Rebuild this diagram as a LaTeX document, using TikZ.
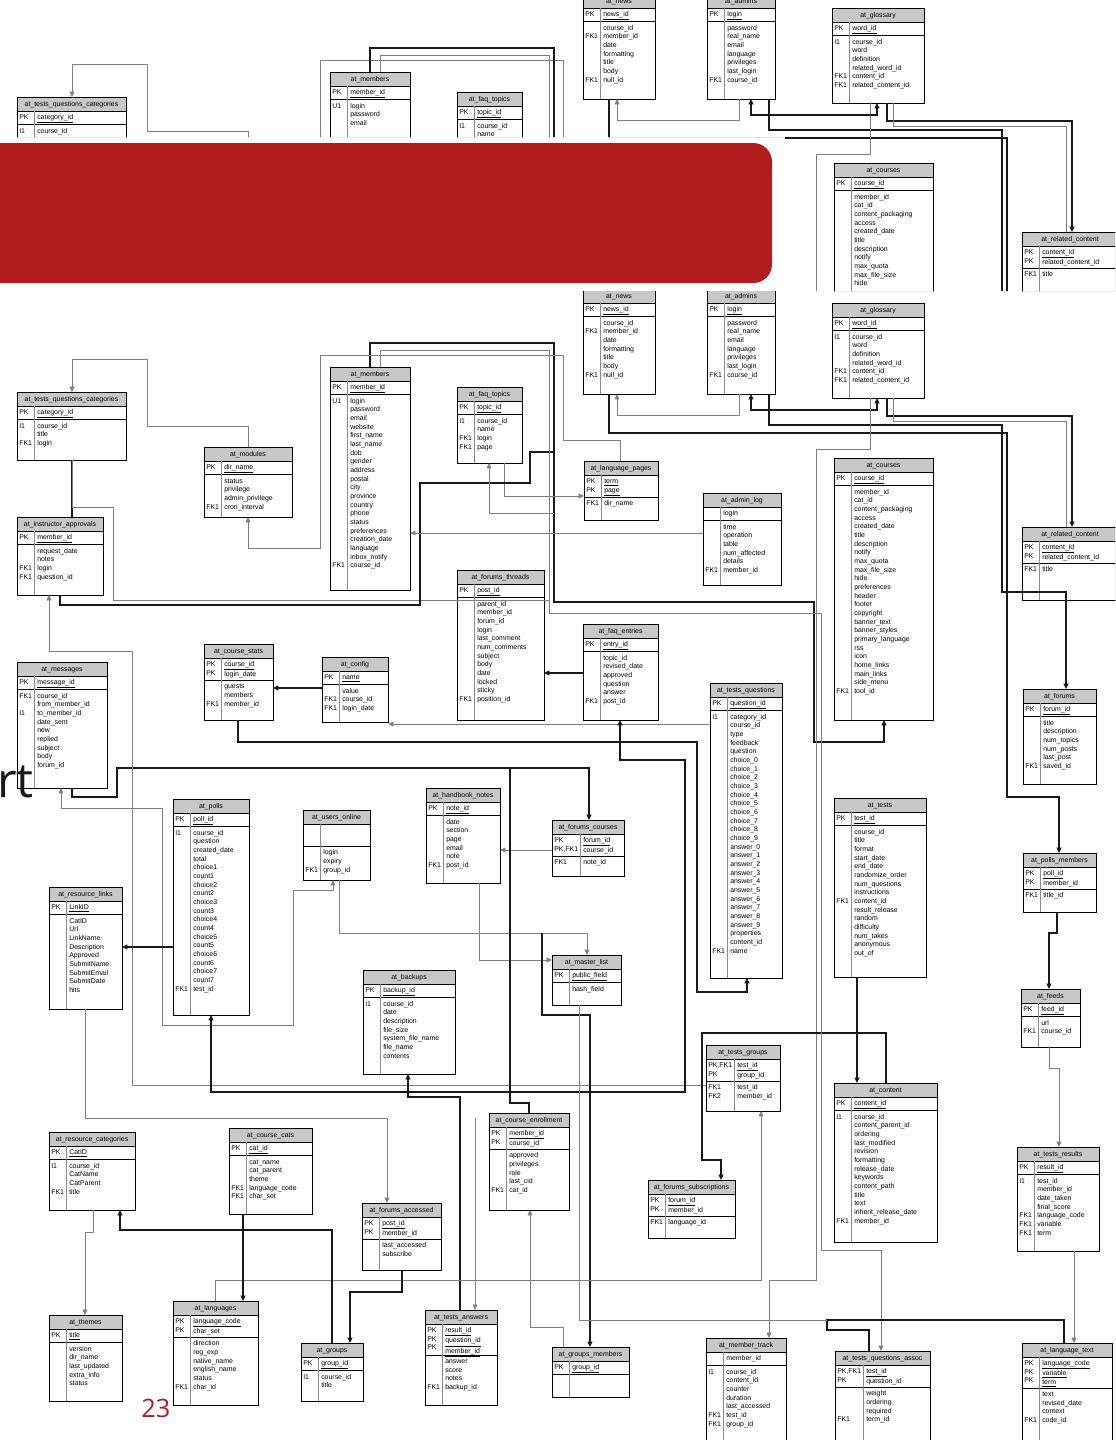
\documentclass[tikz,border=0pt]{standalone}
\usepackage{fontspec}
\setmainfont{Liberation Sans}
\newfontfamily\slidefont{Open Sans}
\usetikzlibrary{arrows.meta,calc,shadows}
\definecolor{bannerred}{HTML}{B21C1E}
\definecolor{hdgray}{HTML}{C8C8C8}
\newcommand\tf{\fontsize{5.2}{6.5}\selectfont}
\newcommand\fs{\rule{0pt}{3.8pt}}
\tikzset{
  tbox/.style={draw=black,line width=0.5pt,fill=white,inner sep=0pt,outer sep=0pt,anchor=north west,
     drop shadow={shadow xshift=0.7pt,shadow yshift=-0.7pt,fill=black!70,opacity=1}},
  bord/.style={draw=black,line width=0.5pt},
  sepl/.style={draw=black,line width=0.45pt},
  kcol/.style={draw=black!45,line width=0.4pt},
  hdt/.style={font=\tf,inner sep=0pt},
  ft/.style={font=\tf,inner sep=0pt,anchor=north west,align=left},
  thk/.style={draw=black!90,line width=0.85pt},
  thn/.style={draw=black!50,line width=0.45pt},
  arr/.style={-{Triangle[length=4pt,width=3.6pt]}},
  arrb/.style={{Triangle[length=4pt,width=3.6pt]}-{Triangle[length=4pt,width=3.6pt]}},
}
\catcode`\_=12
% table: [keycol width]{name}{x}{y}{w}{h}{header}{pk key list}{pk names}{npk}{attr key list}{attr names}
\newcommand\tbl[7][17]{\def\tK{#1}\def\tN{#2}\def\tX{#3}\def\tY{#4}\def\tW{#5}\def\tH{#6}\def\tHd{#7}\tblB}
\newcommand\tblB[5]{%
  \node[tbox,minimum width=\tW*0.75pt,minimum height=\tH*0.75pt] (\tN) at (\tX,\tY) {};
  \fill[hdgray] (\tX,\tY) rectangle ({\tX+\tW},{\tY+14});
  \pgfmathsetmacro\tP{\tY+14+#3*8.67+5}
  \draw[sepl] (\tX,{\tY+14}) -- ({\tX+\tW},{\tY+14});
  \draw[sepl] (\tX,\tP) -- ({\tX+\tW},\tP);
  \draw[kcol] ({\tX+\tK},{\tY+14}) -- ({\tX+\tK},{\tY+\tH});
  \draw[bord] (\tN.north west) rectangle (\tN.south east);
  \node[hdt] (\tN-h) at ({\tX+\tW/2},{\tY+7.5}) {\tHd};
  \foreach \ri/\kt in {#1}{\node[ft] (\tN-k\ri) at ({\tX+2},{\tY+17+(\ri-1)*8.67}) {\fs\kt};}
  \node[ft] (\tN-p) at ({\tX+\tK+3},{\tY+17}) {\fs#2};
  \foreach \ri/\kt in {#4}{\node[ft] (\tN-a\ri) at ({\tX+2},{\tP+3+(\ri-1)*8.67}) {\fs\kt};}
  \node[ft] (\tN-n) at ({\tX+\tK+3},{\tP+3}) {\fs#5};
}
% tables shared by both copies
\newcommand\toptables{%
\tbl{news}{583}{289}{72}{105}{at_news}{1/PK}{\underline{news_id}}{1}{2/FK1,7/FK1}{course_id\\member_id\\date\\formatting\\title\\body\\null_id}
\tbl{adm}{707}{289}{68}{105}{at_admins}{1/PK}{\underline{login}}{1}{7/FK1}{password\\real_name\\email\\language\\privileges\\last_login\\course_id}
\tbl{glo}{832}{303}{92}{95}{at_glossary}{1/PK}{\underline{word_id}}{1}{1/I1,5/FK1,6/FK1}{course_id\\word\\definition\\related_word_id\\content_id\\related_content_id}
\tbl{rc}{1022}{527}{96}{73}{at_related_content}{1/PK,2/PK}{\underline{content_id}\\\underline{related_content_id}}{2}{1/FK1}{title}
}
% connectors shared by both copies (among shared tables / members / courses)
\newcommand\topconn{%
\draw[thn,arr] ($(adm.south west)+(32,0)$) -- (739,415) -- (617,415) -- ($(news.south west)+(34,0)$);
\draw[thk,arrb] ($(adm.south west)+(44,0)$) -- (751,410) -- (877,410) -- ($(glo.south west)+(45,0)$);
\draw[thk,arr] ($(glo.south west)+(55,0)$) -- (887,416) -- (1072,416) -- ($(rc.north west)+(50,0)$);
\draw[thn] ($(glo.south west)+(61,0)$) -- (893,421) -- (1066,421) -- ($(rc.north west)+(44,0)$);
\draw[thk,arr] ($(mem.north west)+(40,0)$) -- (370,343) -- (554,343) -- (554,602) -- (814,602) -- (814,742) -- (884,742) -- ($(crs.south west)+(50,0)$);
}
% top (partly hidden) copy of the diagram
\newcommand\diagramtop{%
\tbl{tqc}{17}{392}{109}{68}{at_tests_questions_categories}{1/PK}{\underline{category_id}}{1}{1/I1}{course_id}
\tbl{mem}{330}{367}{80}{223}{at_members}{1/PK}{\underline{member_id}}{1}{1/U1}{login\\password\\email}
\tbl{faqt}{457}{387}{65}{76}{at_faq_topics}{1/PK}{\underline{topic_id}}{1}{1/I1}{course_id\\name}
\tbl{crs}{834}{458}{99}{262}{at_courses}{1/PK}{\underline{course_id}}{1}{1/{}}{member_id\\cat_id\\content_packaging\\access\\created_date\\title\\description\\notify\\max_quota\\max_file_size\\hide}
\toptables
\coordinate (fmod) at (248,447);
\coordinate (flp) at (620,461);
\coordinate (fm548) at (320,548);
\coordinate (f613) at (821,700);
\coordinate (fpm) at (1059,853);
\coordinate (ffo) at (1066,689);
\coordinate (fmt) at (816,700);
\draw[thn,arr] (fmod) -- (248,426) -- (147,426) -- (147,359) -- (72,359) -- ($(tqc.north west)+(55,0)$);
\draw[thn] (flp) -- (620,440) -- (563,440) -- (563,355) -- (320,355) -- (fm548);
\draw[thn] ($(mem.north west)+(50,0)$) -- (380,350) -- (549,350) -- (549,613) -- (821,613) -- (f613);
\draw[thk,arr] ($(news.south west)+(26,0)$) -- (609,433) -- (1007,433) -- (1007,797) -- (1059,797) -- (fpm);
\draw[thk,arr] ($(adm.south west)+(62,0)$) -- (769,425) -- (1002,425) -- (1002,592) -- (1066,592) -- (ffo);
\draw[thn] ($(glo.south west)+(38,0)$) -- (870,449) -- (816,449) -- (fmt);
\topconn
}
\newcommand\diagram{%
\tbl{tqc}{17}{392}{109}{68}{at_tests_questions_categories}{1/PK}{\underline{category_id}}{1}{1/I1,3/FK1}{course_id\\title\\login}
\tbl{mod}{204}{447}{88}{70}{at_modules}{1/PK}{\underline{dir_name}}{1}{4/FK1}{status\\privilege\\admin_privilege\\cron_interval}
\tbl{ia}{17}{517}{86}{78}{at_instructor_approvals}{1/PK}{\underline{member_id}}{1}{3/FK1,4/FK1}{request_date\\notes\\login\\question_id}
\tbl{mem}{330}{367}{80}{223}{at_members}{1/PK}{\underline{member_id}}{1}{1/U1,20/FK1}{login\\password\\email\\website\\first_name\\last_name\\dob\\gender\\address\\postal\\city\\province\\country\\phone\\status\\preferences\\creation_date\\language\\inbox_notify\\course_id}
\tbl{faqt}{457}{387}{65}{76}{at_faq_topics}{1/PK}{\underline{topic_id}}{1}{1/I1,3/FK1,4/FK1}{course_id\\name\\login\\page}
\toptables
\tbl{lp}{584}{461}{74}{59}{at_language_pages}{1/PK,2/PK}{\underline{term}\\\underline{page}}{2}{1/FK1}{dir_name}
\tbl{al}{703}{493}{78}{92}{at_admin_log}{1/{}}{login}{1}{6/FK1}{time\\operation\\table\\num_affected\\details\\member_id}
\tbl{crs}{834}{458}{99}{262}{at_courses}{1/PK}{\underline{course_id}}{1}{24/FK1}{member_id\\cat_id\\content_packaging\\access\\created_date\\title\\description\\notify\\max_quota\\max_file_size\\hide\\preferences\\header\\footer\\copyright\\banner_text\\banner_styles\\primary_language\\rss\\icon\\home_links\\main_links\\side_menu\\tool_id}
\tbl{ft}{457}{570}{87}{150}{at_forums_threads}{1/PK}{\underline{post_id}}{1}{12/FK1}{parent_id\\member_id\\forum_id\\login\\last_comment\\num_comments\\subject\\body\\date\\locked\\sticky\\position_id}
\tbl{fe}{583}{624}{75}{96}{at_faq_entries}{1/PK}{\underline{entry_id}}{1}{6/FK1}{topic_id\\revised_date\\approved\\question\\answer\\post_id}
\tbl{cs}{204}{644}{69}{76}{at_course_stats}{1/PK,2/PK}{\underline{course_id}\\\underline{login_date}}{2}{3/FK1}{guests\\members\\member_id}
\tbl{cfg}{322}{657}{66}{65}{at_config}{1/PK}{\underline{name}}{1}{2/FK1,3/FK1}{value\\course_id\\login_date}
\tbl{msg}{17}{662}{90}{126}{at_messages}{1/PK}{\underline{message_id}}{1}{1/FK1,3/I1}{course_id\\from_member_id\\to_member_id\\date_sent\\new\\replied\\subject\\body\\forum_id}
\tbl{tq}{710}{683}{72}{295}{at_tests_questions}{1/PK}{\underline{question_id}}{1}{1/I1,28/FK1}{category_id\\course_id\\type\\feedback\\question\\choice_0\\choice_1\\choice_2\\choice_3\\choice_4\\choice_5\\choice_6\\choice_7\\choice_8\\choice_9\\answer_0\\answer_1\\answer_2\\answer_3\\answer_4\\answer_5\\answer_6\\answer_7\\answer_8\\answer_9\\properties\\content_id\\name}
\tbl{fo}{1023}{689}{73}{95}{at_forums}{1/PK}{\underline{forum_id}}{1}{6/FK1}{title\\description\\num_topics\\num_posts\\last_post\\saved_id}
\tbl{po}{173}{799}{76}{216}{at_polls}{1/PK}{\underline{poll_id}}{1}{1/I1,19/FK1}{course_id\\question\\created_date\\total\\choice1\\count1\\choice2\\count2\\choice3\\count3\\choice4\\count4\\choice5\\count5\\choice6\\count6\\choice7\\count7\\test_id}
\tbl{uo}{303}{810}{67}{70}{at_users_online}{1/{}}{}{2}{3/FK1}{login\\expiry\\group_id}
\tbl{hb}{426}{788}{74}{95}{at_handbook_notes}{1/PK}{\underline{note_id}}{1}{6/FK1}{date\\section\\page\\email\\note\\post_id}
\tbl[28]{fc}{552}{820}{72}{56}{at_forums_courses}{1/PK,2/{PK,FK1}}{\underline{forum_id}\\\underline{course_id}}{2}{1/FK1}{note_id}
\tbl{te}{834}{798}{92}{179}{at_tests}{1/PK}{\underline{test_id}}{1}{9/FK1}{course_id\\title\\format\\start_date\\end_date\\randomize_order\\num_questions\\instructions\\content_id\\result_release\\random\\difficulty\\num_takes\\anonymous\\out_of}
\tbl{pm}{1023}{853}{73}{59}{at_polls_members}{1/PK,2/PK}{\underline{poll_id}\\\underline{member_id}}{2}{1/FK1}{title_id}
\tbl{rl}{49}{887}{73}{122}{at_resource_links}{1/PK}{\underline{LinkID}}{1}{1/{}}{CatID\\Url\\LinkName\\Description\\Approved\\SubmitName\\SubmitEmail\\SubmitDate\\hits}
\tbl{ml}{552}{955}{69}{50}{at_master_list}{1/PK}{\underline{public_field}}{1}{1/{}}{hash_field}
\tbl{bk}{363}{970}{92}{104}{at_backups}{1/PK}{\underline{backup_id}}{1}{1/I1}{course_id\\date\\description\\file_size\\system_file_name\\file_name\\contents}
\tbl[28]{tg}{706}{1045}{74}{66}{at_tests_groups}{1/{PK,FK1},2/PK}{\underline{test_id}\\\underline{group_id}}{2}{1/FK1,2/FK2}{test_id\\member_id}
\tbl{fd}{1021}{989}{59}{58}{at_feeds}{1/PK}{\underline{feed_id}}{1}{2/FK1}{url\\course_id}
\tbl{ct}{834}{1083}{103}{159}{at_content}{1/PK}{\underline{content_id}}{1}{1/I1,13/FK1}{course_id\\content_parent_id\\ordering\\last_modified\\revision\\formatting\\release_date\\keywords\\content_path\\title\\text\\inherit_release_date\\member_id}
\tbl{rcat}{49}{1132}{86}{78}{at_resource_categories}{1/PK}{\underline{CatID}}{1}{1/I1,4/FK1}{course_id\\CatName\\CatParent\\title}
\tbl{cc}{229}{1128}{83}{86}{at_course_cats}{1/PK}{\underline{cat_id}}{1}{4/FK1,5/FK1}{cat_name\\cat_parent\\theme\\language_code\\char_set}
\tbl{ce}{489}{1113}{80}{97}{at_course_enrollment}{1/PK,2/PK}{\underline{member_id}\\\underline{course_id}}{2}{5/FK1}{approved\\privileges\\role\\last_cid\\cat_id}
\tbl{fa}{362}{1203}{79}{67}{at_forums_accessed}{1/PK,2/PK}{\underline{post_id}\\\underline{member_id}}{2}{1/{}}{last_accessed\\subscribe}
\tbl{fs}{648}{1180}{87}{58}{at_forums_subscriptions}{1/PK,2/PK}{\underline{forum_id}\\\underline{member_id}}{2}{1/FK1}{language_id}
\tbl{tr}{1017}{1147}{82}{104}{at_tests_results}{1/PK}{\underline{result_id}}{1}{1/I1,5/FK1,6/FK1,7/FK1}{test_id\\member_id\\date_taken\\final_score\\language_code\\variable\\term}
\tbl{th}{49}{1315}{73}{86}{at_themes}{1/PK}{\underline{title}}{1}{1/{}}{version\\dir_name\\last_updated\\extra_info\\status}
\tbl{lg}{173}{1301}{85}{104}{at_languages}{1/PK,2/PK}{\underline{language_code}\\\underline{char_set}}{2}{6/FK1}{direction\\reg_exp\\native_name\\english_name\\status\\char_id}
\tbl{gr}{301}{1343}{62}{58}{at_groups}{1/PK}{\underline{group_id}}{1}{1/I1}{course_id\\title}
\tbl{ta}{425}{1310}{72}{95}{at_tests_answers}{1/PK,2/PK,3/PK}{\underline{result_id}\\\underline{question_id}\\\underline{member_id}}{3}{4/FK1}{answer\\score\\notes\\backup_id}
\tbl{gm}{552}{1347}{77}{50}{at_groups_members}{1/PK}{\underline{group_id}}{1}{1/{}}{}
\tbl{mt}{706}{1338}{80}{110}{at_member_track}{1/{}}{member_id}{1}{1/I1,6/FK1,7/FK1}{course_id\\content_id\\counter\\duration\\last_accessed\\test_id\\group_id}
\tbl[28]{tqa}{835}{1351}{95}{95}{at_tests_questions_assoc}{1/{PK,FK1},2/PK}{\underline{test_id}\\\underline{question_id}}{2}{4/FK1}{weight\\ordering\\required\\term_id}
\tbl{lt}{1022}{1343}{90}{100}{at_language_text}{1/PK,2/PK,3/PK}{\underline{language_code}\\\underline{variable}\\\underline{term}}{3}{4/FK1}{text\\revised_date\\context\\code_id}
% junction points
\coordinate (j452) at (554,452);
\coordinate (j513) at (554,513);
\coordinate (j600) at (549,600);
\coordinate (j768) at (510,768);
\coordinate (j933) at (542,933);
\coordinate (j1118) at (475,1118);
% connectors
\topconn
\draw[thn,arr] ($(mod.north west)+(44,0)$) -- (248,426) -- (147,426) -- (147,359) -- (72,359) -- ($(tqc.north west)+(55,0)$);
\draw[thk] ($(tqc.south west)+(55,0)$) -- ($(ia.north west)+(55,0)$);
\draw[thn] ($(tqc.south west)+(55,0)$) -- (72,507) -- (113,507) -- (113,600) -- (j600);
\draw[thn,arr] ($(lp.north west)+(36,0)$) -- (620,440) -- (563,440) -- (563,355) -- (320,355) -- (320,548) -- (248,548) -- ($(mod.south west)+(44,0)$);
\draw[thn,arr] ($(faqt.south west)+(47,0)$) -- (504,496) -- ($(lp.north west)+(0,35)$);
\draw[thk] ($(ia.south west)+(43,0)$) -- (60,605) -- (420,605) -- (420,483) -- (530,483) -- (530,452) -- (j452);
\draw[thn,arr] ($(al.north west)+(0,40)$) -- ($(mem.north east)+(0,166)$);
\draw[thn,arr] (j513) -- (489,513) -- ($(faqt.south west)+(32,0)$);
\draw[thk,arr] ($(news.south west)+(26,0)$) -- (609,433) -- (1007,433) -- (1007,797) -- (1059,797) -- ($(pm.north west)+(36,0)$);
\draw[thk,arr] ($(adm.south west)+(62,0)$) -- (769,425) -- (1002,425) -- (1002,592) -- (1066,592) -- ($(fo.north west)+(43,0)$);
\draw[thn,arr] ($(glo.south west)+(38,0)$) -- (870,449) -- (816,449) -- (816,1280) -- (769,1280) -- ($(mt.north west)+(63,0)$);
\draw[thk,arr] ($(cfg.north west)+(0,31)$) -- ($(cs.north east)+(0,44)$);
\draw[thk,arr] ($(cs.south west)+(34,0)$) -- (238,742) -- (697,742) -- (697,992) -- (747,992) -- ($(tq.south west)+(37,0)$);
\draw[thk,arr] ($(fe.north west)+(0,49)$) -- ($(ft.north east)+(0,103)$);
\draw[thn,arr] ($(tq.north west)+(0,41)$) -- ($(cfg.north east)+(0,67)$);
\draw[thk,arr] ($(msg.south west)+(55,0)$) -- (72,797) -- (117,797) -- (117,768) -- (589,768) -- ($(fc.north west)+(37,0)$);
\draw[thn,arrb] ($(uo.south west)+(30,0)$) -- (333,890) -- (293,890) -- (293,1025) -- (162,1025) -- (162,808) -- (61,808) -- ($(msg.south west)+(44,0)$);
\draw[thn,arr] ($(uo.south west)+(36,0)$) -- (339,933) -- (587,933) -- ($(ml.north west)+(35,0)$);
\draw[thn,arr] ($(tg.north west)+(0,40)$) -- (132,1085) -- (132,651) -- (49,651) -- ($(ia.south west)+(32,0)$);
\draw[thk,arr] ($(po.north west)+(0,148)$) -- ($(rl.north east)+(0,60)$);
\draw[thn,arr] ($(rl.south west)+(36,0)$) -- (85,1118) -- (387,1118) -- ($(fa.north west)+(25,0)$);
\draw[thk,arr] ($(ta.north west)+(35,0)$) -- (460,1097) -- (408,1097) -- ($(bk.south west)+(45,0)$);
\draw[thn,arr] (j1118) -- ($(ta.north west)+(50,0)$);
\draw[thn,arr] ($(hb.south west)+(53,0)$) -- (479,960) -- ($(ml.north west)+(0,5)$);
\draw[thk,arr] (j933) -- (542,1015) -- (590,1015) -- ($(gm.north west)+(38,0)$);
\draw[thn,arr] ($(fc.north west)+(0,30)$) -- ($(hb.north east)+(0,62)$);
\draw[thk,arrb] ($(fe.south west)+(37,0)$) -- (620,760) -- (685,760) -- (685,1092) -- (211,1092) -- ($(po.south west)+(38,0)$);
\draw[thk,arr] ($(te.south west)+(23,0)$) -- ($(ct.north west)+(23,0)$);
\draw[thk,arr] ($(ct.north west)+(52,0)$) -- (886,1033) -- (702,1033) -- (702,1160) -- (721,1160) -- ($(fs.north west)+(73,0)$);
\draw[thn,arr] ($(lg.north west)+(42,0)$) -- (215,1280) -- (761,1280) -- ($(tg.south west)+(55,0)$);
\draw[thk,arr] ($(pm.south west)+(34,0)$) -- (1057,933) -- (1049,933) -- ($(fd.north west)+(28,0)$);
\draw[thn,arr] ($(fd.south west)+(28,0)$) -- (1049,1068) -- (1059,1068) -- ($(tr.north west)+(42,0)$);
\draw[thn,arr] ($(tr.south west)+(57,0)$) -- ($(lt.north west)+(52,0)$);
\draw[thn,arr] ($(mem.north west)+(50,0)$) -- (380,350) -- (549,350) -- (549,613) -- (821,613) -- (821,1250) -- (881,1250) -- ($(tqa.north west)+(46,0)$);
\draw[thk] ($(tqa.north west)+(34,0)$) -- (869,1330) -- (827,1330) -- (827,1320) -- (1064,1320) -- ($(lt.north west)+(42,0)$);
\draw[thn] ($(ml.south west)+(27,0)$) -- (579,1320) -- (827,1320);
\draw[thn,arr] ($(rcat.south west)+(44,0)$) -- (93,1232) -- (85,1232) -- ($(th.north west)+(36,0)$);
\draw[thk,arr] ($(gr.north west)+(31,0)$) -- (332,1230) -- (120,1230) -- ($(rcat.south west)+(71,0)$);
\draw[thk,arr] ($(cc.south west)+(14,0)$) -- ($(lg.north west)+(70,0)$);
\draw[thk,arr] ($(fa.south west)+(40,0)$) -- (402,1292) -- (350,1292) -- ($(gr.north west)+(49,0)$);
\draw[thn,arr] ($(gm.north west)+(11,0)$) -- (563,1327) -- (530,1327) -- ($(ce.south west)+(41,0)$);
\draw[thk] ($(ce.north west)+(40,0)$) -- (529,1103) -- (510,1103) -- (j768);
}
\begin{document}
\begin{tikzpicture}[x=0.75pt,y=-0.75pt]
\useasboundingbox (0,0) rectangle (1115,1440);
\fill[white] (0,0) rectangle (1115,1440);
\begin{scope}
  \clip (0,0) rectangle (1115,137) (785,137) rectangle (1115,291);
  \begin{scope}[shift={(0,-295)},name prefix=t-]
    \diagramtop
  \end{scope}
\end{scope}
\begin{scope}
  \clip (0,291) rectangle (1115,1440);
  \diagram
\end{scope}
\fill[bannerred,rounded corners=14pt] (-40,143) rectangle (772,283);
\node[anchor=base west,inner sep=0pt,font=\slidefont\fontsize{36}{40}\selectfont,text=black!90] (rt) at (-3,797) {rt};
\node[anchor=base west,inner sep=0pt,font=\slidefont\fontsize{19}{22}\selectfont,text=bannerred] (pg) at (141,1417) {23};
\end{tikzpicture}
\end{document}
